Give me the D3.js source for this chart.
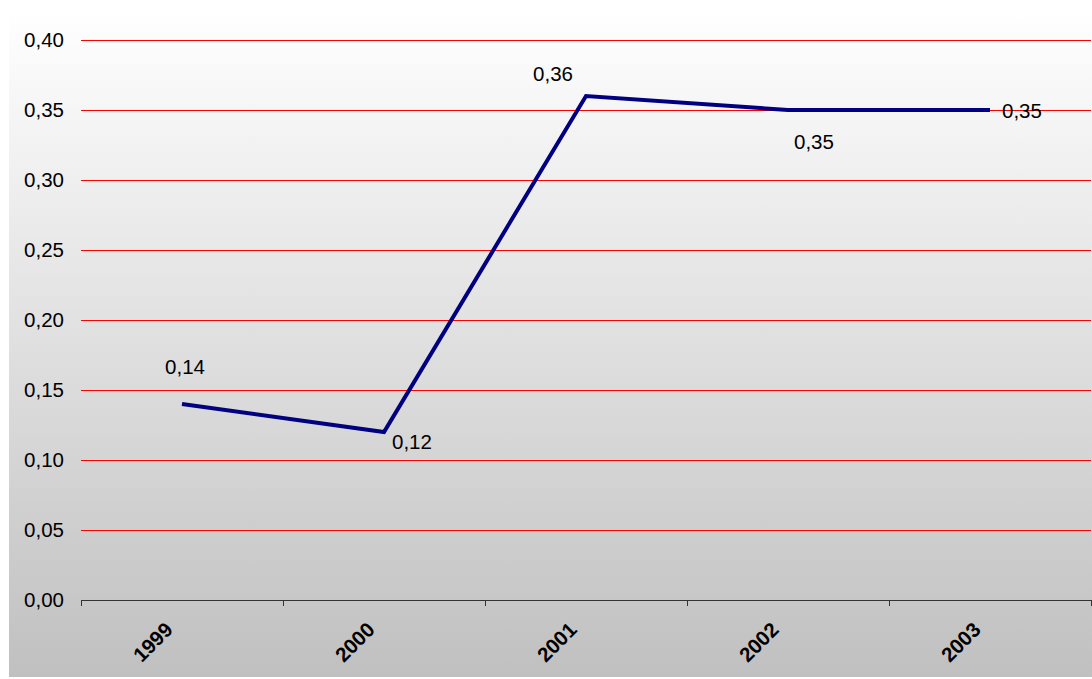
<!DOCTYPE html>
<html><head><meta charset="utf-8">
<script src="https://cdn.jsdelivr.net/npm/d3@7"></script>
<style>body{margin:0;background:#fff}svg{display:block}</style>
</head><body>
<svg id="c" width="1092" height="679"></svg>
<script>
const categories = ["1999","2000","2001","2002","2003"];
const values = [0.14, 0.12, 0.36, 0.35, 0.35];
const yTicks = [0,0.05,0.10,0.15,0.20,0.25,0.30,0.35,0.40];
const labelPos = ["above","right-below","left-above","below","right"];

const svg = d3.select("#c");
const defs = svg.append("defs");
const g = defs.append("linearGradient").attr("id","bg").attr("x1",0).attr("y1",0).attr("x2",0).attr("y2",1);
g.append("stop").attr("offset","0%").attr("stop-color","#ffffff");
g.append("stop").attr("offset","100%").attr("stop-color","#c0c0c0");
svg.append("rect").attr("x",9).attr("y",10).attr("width",1083).attr("height",667).attr("fill","url(#bg)");

const x = d3.scaleBand().domain(categories).range([81,1091]);
const y = d3.scaleLinear().domain([0,0.40]).range([600,40]);
const fmt = v => d3.format(".2f")(v).replace(".",",");
const font = "Liberation Sans, Arial, sans-serif";
const fs = 20.5;

svg.append("g").selectAll("line").data(yTicks.filter(t=>t>0)).join("line")
  .attr("x1",81).attr("x2",1091).attr("y1",d=>y(d)).attr("y2",d=>y(d))
  .attr("stroke","#ff0000").attr("stroke-width",1).attr("shape-rendering","crispEdges");

svg.append("g").selectAll("text").data(yTicks).join("text")
  .attr("x",64).attr("y",d=>y(d)).attr("dy","0.35em").attr("text-anchor","end")
  .attr("font-family",font).attr("font-size",fs).attr("fill","#000").text(fmt);

// x axis
const xa = svg.append("g");
xa.append("line").attr("x1",81).attr("x2",1091).attr("y1",600).attr("y2",600).attr("stroke","#333").attr("shape-rendering","crispEdges");
const bounds = categories.map(c=>x(c)).concat([x.range()[1]]);
xa.selectAll("line.t").data(bounds).join("line").attr("class","t")
  .attr("x1",d=>d).attr("x2",d=>d).attr("y1",600).attr("y2",606).attr("stroke","#333").attr("shape-rendering","crispEdges");
xa.selectAll("text").data(categories).join("text")
  .attr("transform",d=>`translate(${x(d)+x.bandwidth()/2-8},${631}) rotate(-45)`)
  .attr("text-anchor","end").attr("font-family",font).attr("font-weight","bold").attr("font-size",fs).text(d=>d);

const cx = d => x(d)+x.bandwidth()/2;
const line = d3.line().x((d,i)=>cx(categories[i])).y(d=>y(d));
svg.append("path").datum(values).attr("d",line).attr("fill","none").attr("stroke","#000080").attr("stroke-width",4).attr("stroke-linejoin","miter");

const off = {above:[3,-37,"middle"],"right-below":[8,10,"start"],"left-above":[-13,-22,"end"],below:[6,32,"start"],right:[12,1,"start"]};
svg.append("g").selectAll("text").data(values).join("text")
  .attr("x",(d,i)=>cx(categories[i])+off[labelPos[i]][0])
  .attr("y",(d,i)=>y(d)+off[labelPos[i]][1])
  .attr("dy","0.35em")
  .attr("text-anchor",(d,i)=>off[labelPos[i]][2])
  .attr("font-family",font).attr("font-size",fs).text(fmt);
</script>
</body></html>
